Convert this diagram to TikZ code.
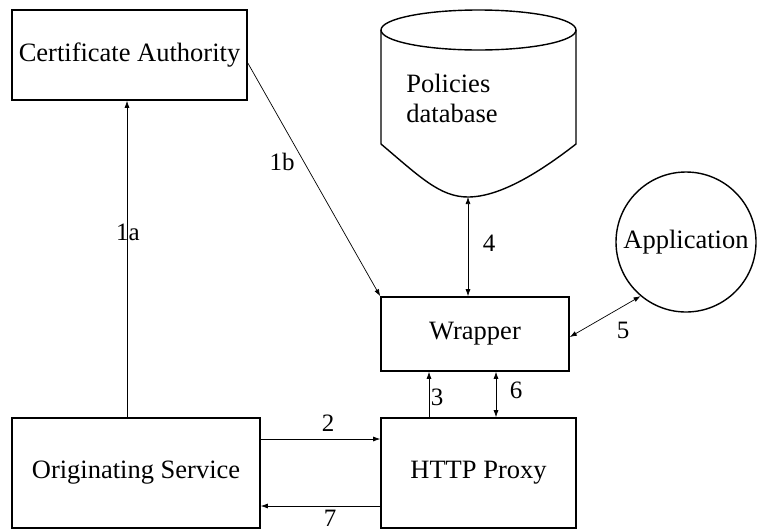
\documentclass[tikz,border=0pt]{standalone}
\usepackage{fontspec}
\setmainfont{Liberation Serif}
\usetikzlibrary{arrows.meta}
\begin{document}
\begin{tikzpicture}[x=1pt,y=-1pt,
  every node/.style={font=\fontsize{26.5}{30}\selectfont, inner sep=0pt},
  box/.style={draw, line width=1.6pt, rectangle},
  conn/.style={line width=0.7pt, -{Latex[length=7pt,width=5pt]}},
  bothconn/.style={line width=0.7pt, {Latex[length=7pt,width=5pt]}-{Latex[length=7pt,width=5pt]}},
  lbl/.style={font=\fontsize{25}{28}\selectfont}]
\useasboundingbox (0,0) rectangle (759,531);

% boxes
\node[box, minimum width=235pt, minimum height=90pt] (ca) at (129.5,55) {Certificate Authority};
\node[box, minimum width=248pt, minimum height=110pt] (orig) at (136,473) {Originating Service};
\node[box, minimum width=195pt, minimum height=110pt] (http) at (478.5,473) {HTTP Proxy};
\node[box, minimum width=188pt, minimum height=74pt] (wrap) at (475,334) {Wrapper};
\node[draw, line width=1.4pt, circle, minimum size=140pt] (app) at (686,242) {Application};

% policies database drawn as a cylinder
\draw[line width=1.4pt, fill=white]
  (381,30) -- (381,144) .. controls (420,177) and (440,197) .. (468,197)
  .. controls (500,197) and (540,172) .. (576,144) -- (576,30);
\draw[line width=1.4pt] (478.5,30) ellipse [x radius=97.5pt, y radius=20pt];
\node[align=left] (db) at (452,98) {Policies\\database};
\coordinate (dbb) at (468,197);

% connectors
\draw[conn] ([xshift=-9pt]orig.north) -- ([xshift=-9pt]orig.north |- ca.south);
\draw[conn] ([yshift=-8pt]ca.east) -- (wrap.north west);
\draw[bothconn] (dbb) -- (dbb |- wrap.north);
\draw[bothconn] ([yshift=-3pt]wrap.east) -- (app.230);
\draw[conn] ([xshift=-49.5pt]http.north) -- ([xshift=-49.5pt]http.north |- wrap.south);
\draw[bothconn] ([xshift=17.5pt]http.north) -- ([xshift=17.5pt]http.north |- wrap.south);
\draw[conn] ([yshift=34pt]orig.east) -- ([yshift=34pt]orig.east -| http.west);
\draw[conn] ([yshift=-33pt]http.west) -- ([yshift=-33pt]http.west -| orig.east);

% labels
\node[lbl] (l1a) at (128,232) {1a};
\node[lbl] (l1b) at (282,162) {1b};
\node[lbl] (l4) at (489,243) {4};
\node[lbl] (l5) at (623,330) {5};
\node[lbl] (l3) at (437,397) {3};
\node[lbl] (l6) at (516,390) {6};
\node[lbl] (l2) at (328,423) {2};
\node[lbl] (l7) at (330,518) {7};
\end{tikzpicture}
\end{document}
